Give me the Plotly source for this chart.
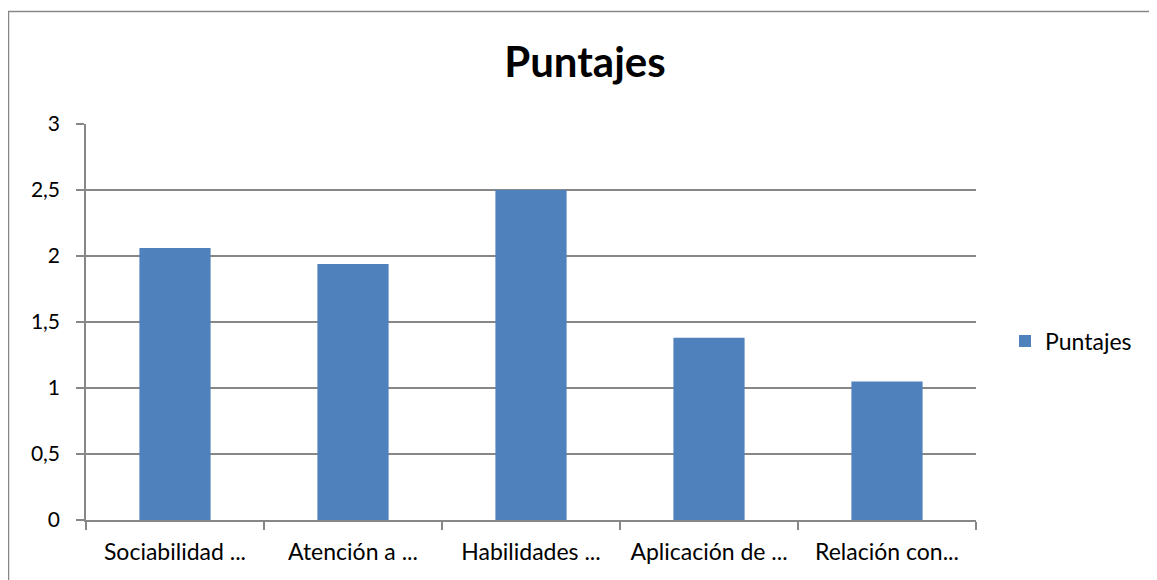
import plotly.graph_objects as go

categories = ["Sociabilidad ...", "Atención a ...", "Habilidades ...", "Aplicación de ...", "Relación con..."]
values = [2.06, 1.94, 2.5, 1.38, 1.05]
series_name = "Puntajes"
y_ticks = [0, 0.5, 1, 1.5, 2, 2.5, 3]

W, H = 1157, 580
OFF = 8  # page body margin
L, R, T, B = 86 - OFF, 976 - OFF, 124 - OFF, 520 - OFF

fig = go.Figure()
fig.add_trace(go.Bar(
    x=categories, y=values, name=series_name,
    marker=dict(color="#4F81BD", line=dict(width=0)),
    showlegend=True,
))

def px_to_paper_x(px):
    return (px - OFF - L) / (R - L)

def px_to_paper_y(py):
    return (B - (py - OFF)) / (B - T)

fig.update_layout(
    width=W, height=H,
    margin=dict(l=L, r=W - R, t=T, b=H - B, pad=0),
    paper_bgcolor="white", plot_bgcolor="white",
    separators=", ",
    font=dict(family="Lato, Open Sans, sans-serif", size=22, color="black"),
    title=dict(text="<b>Puntajes</b>", x=(585 - OFF) / W, xanchor="center",
               y=1 - (62 - OFF) / H, yanchor="middle", yref="container",
               font=dict(size=42, color="black")),
    bargap=0.6,
    showlegend=True,
    legend=dict(x=px_to_paper_x(1005), xanchor="left", y=px_to_paper_y(341), yanchor="middle",
                font=dict(size=23), itemwidth=30, bgcolor="rgba(0,0,0,0)"),
    xaxis=dict(
        type="category", showgrid=False, showline=True, linecolor="#878787", linewidth=1.5,
        ticks="outside", ticklen=8, tickcolor="#878787", tickwidth=1.5, tickson="boundaries",
        tickfont=dict(size=23), ticklabelstandoff=11, fixedrange=True,
    ),
    yaxis=dict(
        range=[0, 3], tickvals=y_ticks, showgrid=True, gridcolor="#878787", gridwidth=1.5,
        showline=True, linecolor="#878787", linewidth=1.5, zeroline=False,
        ticks="outside", ticklen=8, tickcolor="#878787", tickwidth=1.5,
        tickfont=dict(size=21), ticklabelstandoff=12,
    ),
    shapes=[dict(type="rect", xref="paper", yref="paper",
                 x0=px_to_paper_x(8.5), x1=px_to_paper_x(1200),
                 y0=px_to_paper_y(700), y1=px_to_paper_y(11.5),
                 line=dict(color="#878787", width=1.5), fillcolor="rgba(0,0,0,0)", layer="below")],
)

fig.write_html("out.html")
